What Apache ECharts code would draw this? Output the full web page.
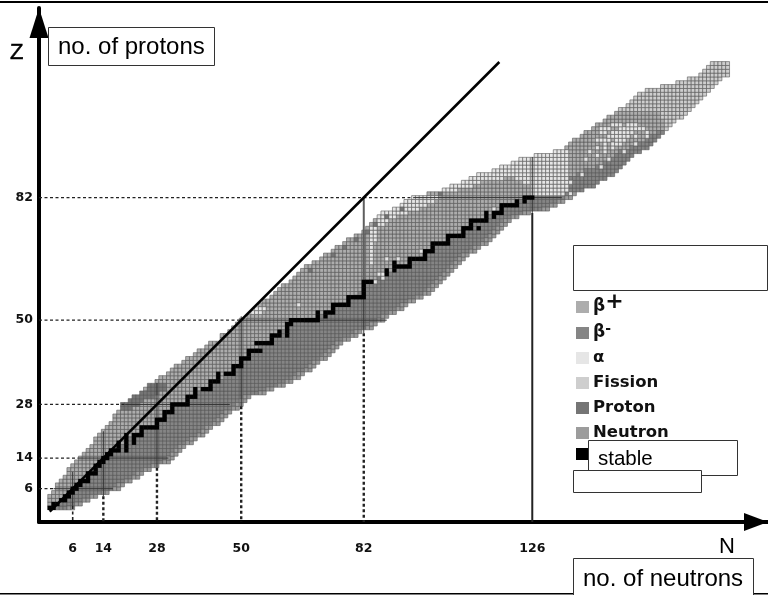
<!DOCTYPE html>
<html><head><meta charset="utf-8">
<style>html,body{margin:0;padding:0;background:#fff}#c{width:768px;height:595px}</style>
<script src="https://cdn.jsdelivr.net/npm/echarts@6/dist/echarts.min.js"></script>
</head><body><div id="c"></div>
<script>
// Values per proton number Z = 1..117 (index 0 is Z=1)
const protonEdgeN = [0,0,0,0,1,2,2,3,4,5,5,6,7,8,9,10,11,12,12,13,14,15,16,17,17,18,19,19,21,22,24,25,26,28,29,31,32,33,35,36,38,39,41,42,45,45,47,48,49,50,52,53,54,55,56,58,59,60,61,63,64,65,66,67,69,71,72,74,75,77,78,80,82,83,84,85,86,87,90,92,93,95,99,103,105,108,110,112,116,118,121,123,127,132,135,136,137,139,140,142,143,145,146,148,149,151,152,153,154,156,160,164,167,170,171,172,173];
const neutronEdgeN = [6,8,10,12,15,18,19,21,23,24,26,28,31,32,33,34,35,37,38,40,41,42,44,45,46,47,49,50,51,52,56,58,61,63,65,66,68,69,70,72,73,74,75,76,78,80,81,84,85,87,88,90,92,93,95,97,99,100,101,102,103,104,105,106,107,108,109,111,112,114,115,116,117,118,119,120,122,125,130,132,134,136,137,139,142,143,145,147,148,149,150,151,152,154,156,157,158,159,160,161,162,163,165,166,167,168,169,170,171,172,173,174,175,177,177,177,177];
const splitN = [0,2,3,5,5,6,7,9,10,11,12,13,14,15,16,17,18,19,20,22,24,26,27,28,29,30,31,33,35,37,38,41,42,44,45,47,48,49,50,51,52,53,54,56,57,59,60,61,62,66,70,72,74,75,77,79,80,81,82,83,85,88,89,92,93,96,97,99,100,102,103,106,107,109,110,112,114,117,118,120,122,125,128,131,133,134,135,137,139,142,144,146,147,148,151,153,155,156,158,160,177,177,177,177,177,177,177,177,177,177,177,177,177,177,177,177,177];
// [Z, first N, last N]
const stableRuns = [[1,0,1],[2,1,2],[3,3,4],[4,4,5],[5,5,6],[6,6,7],[7,7,8],[8,8,10],[9,10,10],[10,10,12],[11,12,12],[12,12,13],[13,13,14],[14,14,15],[15,15,16],[16,16,18],[17,18,18],[16,20,20],[17,20,20],[18,18,18],[18,20,20],[19,20,20],[20,20,20],[18,22,22],[19,22,22],[20,22,24],[21,24,24],[22,24,28],[23,28,28],[24,28,30],[25,30,30],[26,30,32],[27,32,32],[28,32,36],[29,36,36],[30,36,38],[31,38,38],[32,38,38],[32,40,42],[33,42,42],[34,42,44],[35,44,44],[36,44,44],[36,46,48],[37,48,48],[38,48,50],[39,50,50],[40,50,52],[41,52,52],[42,52,55],[44,54,58],[45,58,58],[46,58,60],[47,60,60],[46,62,62],[47,62,62],[48,62,62],[49,62,63],[50,63,70],[51,70,70],[52,70,70],[51,72,72],[52,72,74],[53,74,74],[54,74,78],[55,78,78],[56,78,82],[57,82,82],[58,82,82],[59,82,82],[60,82,84],[62,88,88],[63,88,88],[63,90,90],[64,90,94],[65,90,90],[65,94,94],[66,94,98],[67,98,98],[68,98,100],[69,100,100],[70,100,104],[71,104,104],[72,104,108],[73,108,108],[74,108,110],[74,112,112],[75,110,110],[76,110,114],[77,114,114],[78,114,114],[77,116,116],[78,116,118],[79,118,118],[80,118,122],[81,122,122],[81,124,124],[82,124,126]];
const alphaRuns = [[83,126,134],[84,103,106],[84,126,135],[85,105,110],[85,126,135],[86,108,112],[86,124,135],[87,110,118],[87,122,135],[88,112,135],[89,116,135],[90,118,135],[91,121,135],[92,123,135],[93,127,135],[94,132,135],[65,84,84],[66,84,84],[67,84,84],[68,84,84],[69,84,84],[70,84,84],[71,84,85],[72,84,85],[73,84,85],[74,84,85],[75,85,87],[76,86,88],[77,86,90],[78,87,93],[79,90,96],[80,92,98],[81,93,100],[82,95,101],[52,53,55],[53,54,56],[101,147,149],[101,151,153],[100,144,146],[100,149,155],[99,144,145],[99,147,152],[98,146,151],[98,153,153],[97,143,146],[97,148,150],[96,147,149]];
const alphaSpots = [[65,54],[86,62],[87,62],[88,66],[91,66],[94,66],[87,61],[85,60],[90,63],[97,68],[100,68],[104,70],[108,72],[112,76],[116,79],[136,83],[136,86],[139,88],[144,90],[146,92],[150,94],[153,96],[156,98],[140,92],[143,93],[147,96],[110,88],[114,87],[118,87],[122,87],[145,96],[143,95],[145,95],[147,95],[141,94],[145,94],[156,99]];
const fissionRuns = [[100,161,177],[101,161,177],[102,161,177],[103,160,177],[104,160,177],[105,149,177],[106,151,177],[107,152,177],[108,153,177],[109,154,177],[110,156,177],[111,160,177],[112,164,177],[113,167,177],[114,170,177],[115,171,177],[116,172,177],[117,173,177]];
const protonRuns = [[33,26,30],[32,26,30],[31,24,28],[30,22,27],[29,21,24],[28,19,23],[27,19,21]];
const protonSpots = [[92,79],[88,77],[85,75],[83,73],[80,71],[77,69],[74,67],[68,63],[102,83]];
const magicN = [6,14,28,50,82,126];
const magicZ = [6,14,28,50,82];
const axisFloorN = -2.8, axisFloorZ = -2.69;
const magicZBandN = [[1,16.5],[7.5,31],[19.7,47],[50,88],[95,133.7]];
const magicNBandZ = [[10.4,1.5],[21,4],[33.6,11.5],[51,27.5],[60,46.6],[92.6,78]];
const chartName = { bp:'β+', bm:'β-', a:'α', f:'Fission', p:'Proton', n:'Neutron', s:'stable' };
const colors = { bp:'#adadad', bm:'#858585', a:'#e6e6e6', f:'#cecece', p:'#757575', n:'#9c9c9c', s:'#000000' };

const cells = { bp:[], bm:[], a:[], f:[], p:[], n:[] };
const typeAt = new Map();
protonEdgeN.forEach((lo,i)=>{
  const z=i+1, hi=neutronEdgeN[i], split=splitN[i];
  for(let n=lo;n<=hi;n++){
    let t = n<=split ? 'bp':'bm';
    if(z<=83 && n>=hi-1) t='n';
    typeAt.set(n+','+z,t);
  }
});
const paint=(k,t)=>{if(typeAt.has(k)) typeAt.set(k,t);};
fissionRuns.forEach(([z,a,b])=>{for(let n=a;n<=b;n++) paint(n+','+z,'f');});
alphaRuns.forEach(([z,a,b])=>{for(let n=a;n<=b;n++) paint(n+','+z,'a');});
alphaSpots.forEach(([n,z])=>paint(n+','+z,'a'));
protonRuns.forEach(([z,a,b])=>{for(let n=a;n<=b;n++) paint(n+','+z,'p');});
protonSpots.forEach(([n,z])=>paint(n+','+z,'p'));
typeAt.forEach((t,k)=>cells[t].push(k.split(',').map(Number)));
const stableCells=[];
stableRuns.forEach(([z,a,b])=>{for(let n=a;n<=b;n++) stableCells.push([n,z]);});

const cellSeries = ['bp','bm','a','f','p','n'].map(k=>({
  type:'scatter', name:chartName[k], data:cells[k], symbol:'rect', symbolSize:3.9,
  itemStyle:{color:colors[k],borderColor:'#555',borderWidth:0.6,opacity:1}, silent:true, z:2
}));
cellSeries.push({type:'scatter',name:chartName.s,data:stableCells,symbol:'rect',symbolSize:4.3,
  itemStyle:{color:'#000',opacity:1},silent:true,z:5});

const lineS=(data,w,c,type,z)=>({type:'line',data,symbol:'none',silent:true,z:z||4,animation:false,
  lineStyle:{width:w,color:c,type:type||'solid'}});
const extra=[];
magicZ.forEach((z,i)=>{
  extra.push(lineS([[axisFloorN,z],[magicZBandN[i][0],z]],1.2,'#222',[3,2.5]));
  extra.push(lineS([[magicZBandN[i][0],z],[magicZBandN[i][1],z]],1,'#333'));
});
magicN.forEach((n,i)=>{
  const [top,bot]=magicNBandZ[i];
  extra.push(lineS([[n,top],[n,bot]],1,'#333'));
  if(n!==126) extra.push(lineS([[n,bot],[n,axisFloorZ]],n===6?1.6:2.4,'#222',[3,2.5]));
});
extra.push(lineS([[126,78],[126,axisFloorZ]],2,'#222'));
extra.push(lineS([[82,82],[82,60]],2,'#5e5e5e'));
extra.push(lineS([[0,0],[117.4,117.4]],2.6,'#000','solid',6));

const chart=echarts.init(document.getElementById('c'),null,{renderer:'canvas'});
const font='"DejaVu Sans"';
const box=(x,y,w,h,z)=>({type:'rect',shape:{x:x+.5,y:y+.5,width:w,height:h},style:{fill:'#fff',stroke:'#333',lineWidth:1},z:z});
const txt=(x,y,t,size,z)=>({type:'text',x:x,y:y,style:{text:t,font:size+'px "Liberation Sans"',fill:'#000',textVerticalAlign:'middle'},z:z});
chart.setOption({
  animation:false, backgroundColor:'#fff',
  grid:{left:39,top:8,width:729,height:514},
  xAxis:{type:'value',min:axisFloorN,max:187.55,position:'bottom',splitLine:{show:false},
    axisLine:{onZero:false,lineStyle:{color:'#000',width:4},symbol:['none','triangle'],symbolSize:[18,24],symbolOffset:[0,-12]},
    axisTick:{show:false},
    axisLabel:{customValues:magicN,margin:20,color:'#111',fontFamily:font,fontWeight:'bold',fontSize:12.5}},
  yAxis:{type:'value',min:axisFloorZ,max:131.5,splitLine:{show:false},
    axisLine:{onZero:false,lineStyle:{color:'#000',width:4},symbol:['none','triangle'],symbolSize:[19,30],symbolOffset:[0,-15]},
    axisTick:{show:false},
    axisLabel:{customValues:magicZ,margin:6,color:'#111',fontFamily:font,fontWeight:'bold',fontSize:12.5}},
  legend:{show:true,orient:'vertical',left:576,top:291,padding:0,itemWidth:13,itemHeight:12,itemGap:5,icon:'rect',selectedMode:false,
    data:['β+','β-','α','Fission','Proton','Neutron','stable'].map(n=>({name:n,itemStyle:{borderWidth:0}})),
    formatter:n=>n==='stable'?'':n==='β+'?'{b|β}{s|+}':n==='β-'?'{b|β}{m|-}':n,
    textStyle:{fontFamily:font,fontWeight:'bold',fontSize:16.5,color:'#111',padding:[0,0,0,-1],height:20,lineHeight:20,
      rich:{b:{fontFamily:font,fontWeight:'bold',fontSize:17,color:'#111'},
            s:{fontFamily:font,fontSize:22,color:'#111',padding:[0,0,10,0]},
            m:{fontFamily:font,fontWeight:'bold',fontSize:14,color:'#111',padding:[0,0,8,0]}}}},
  series:cellSeries.concat(extra),
  graphic:[
    {type:'rect',shape:{x:0,y:1,width:768,height:2},style:{fill:'#000'},z:50},
    {type:'rect',shape:{x:0,y:593,width:768,height:1.5},style:{fill:'#000'},z:50},
    box(48,27,166,38,60),txt(58,47,'no. of protons',24,61),
    box(573,245,194,45,60),
    box(588,440,149,35,60),txt(598,459,'stable',20.5,61),
    box(573,470,128,22,62),
    box(573,558,180,38,60),txt(583,579,'no. of neutrons',24,61),
    {type:'text',x:10,y:53,style:{text:'Z',font:'22px "Liberation Sans"',fill:'#000',stroke:'#000',lineWidth:0.5,textVerticalAlign:'middle'},z:61},
    {type:'text',x:719,y:547,style:{text:'N',font:'22px "Liberation Sans"',fill:'#000',textVerticalAlign:'middle'},z:61}
  ]
});
</script></body></html>
